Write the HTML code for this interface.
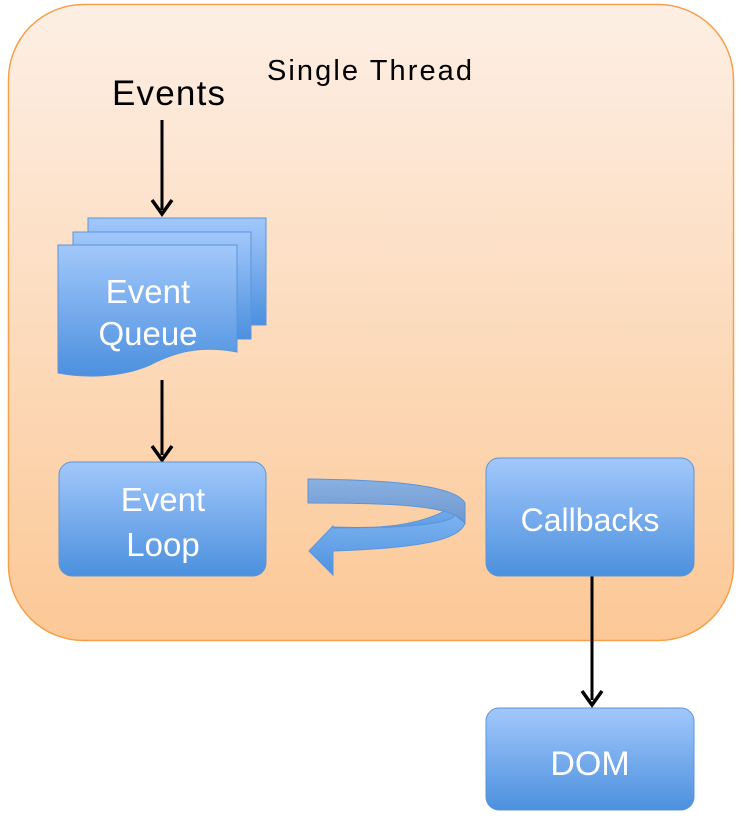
<!DOCTYPE html>
<html><head><meta charset="utf-8"><style>html,body{margin:0;padding:0;background:#fff;}svg{display:block}</style></head>
<body>
<svg width="741" height="822" viewBox="0 0 741 822" xmlns="http://www.w3.org/2000/svg" font-family="Liberation Sans, sans-serif">
<defs>
<linearGradient id="bg" x1="0" y1="0" x2="0" y2="1">
<stop offset="0" stop-color="#fdefe5"/><stop offset="1" stop-color="#fcc896"/></linearGradient>
<linearGradient id="bl" x1="0" y1="0" x2="0" y2="1">
<stop offset="0" stop-color="#a2c8fb"/><stop offset="1" stop-color="#4c90de"/></linearGradient>
<linearGradient id="arr1" x1="0" y1="0" x2="0" y2="1">
<stop offset="0" stop-color="#8ab0e2"/><stop offset="1" stop-color="#6e98cf"/></linearGradient>
<linearGradient id="arr2" x1="0" y1="0" x2="0" y2="1">
<stop offset="0" stop-color="#7db3f0"/><stop offset="1" stop-color="#4f92df"/></linearGradient>
</defs>
<rect x="8.5" y="4.5" width="725" height="636" rx="75" fill="url(#bg)" stroke="#f7a04a" stroke-width="1.5"/>
<text x="267" y="80" font-size="29" textLength="205" fill="#000">Single Thread</text>
<text x="112" y="105" font-size="35" textLength="113" fill="#000">Events</text>
<g stroke="#000" stroke-width="3" fill="none">
<line x1="162" y1="120" x2="162" y2="210"/>
<line x1="162" y1="380" x2="162" y2="455"/>
<line x1="592" y1="576" x2="592" y2="700"/>
</g>
<g fill="none" stroke="#000" stroke-width="3.5">
<polyline points="152,200 162,214 172,200"/>
<polyline points="152,446 162,460 172,446"/>
<polyline points="582,691 592,705 602,691"/>
</g>
<rect x="88" y="218" width="178" height="107" fill="url(#bl)" stroke="#5b95d8" stroke-width="1"/>
<rect x="73" y="232" width="178" height="107" fill="url(#bl)" stroke="#5b95d8" stroke-width="1"/>
<path d="M58,245 H237 V352 C200,345 175,352 150,365 C120,378 85,378 58,373 Z" fill="url(#bl)" stroke="#5b95d8" stroke-width="1"/>
<text x="148" y="303" font-size="33" fill="#fff" text-anchor="middle">Event</text>
<text x="148" y="345" font-size="33" fill="#fff" text-anchor="middle">Queue</text>
<rect x="59" y="462" width="207" height="114" rx="13" fill="url(#bl)" stroke="#5b95d8"/>
<text x="163" y="511" font-size="33" fill="#fff" text-anchor="middle">Event</text>
<text x="163" y="556" font-size="33" fill="#fff" text-anchor="middle">Loop</text>
<rect x="486" y="458" width="208" height="118" rx="13" fill="url(#bl)" stroke="#5b95d8"/>
<text x="590" y="531" font-size="32" fill="#fff" text-anchor="middle">Callbacks</text>
<rect x="486" y="708" width="208" height="102" rx="13" fill="url(#bl)" stroke="#5b95d8"/>
<text x="590" y="775" font-size="34" fill="#fff" text-anchor="middle">DOM</text>
<path d="M333,538 L462,524 C467,515 465,506 460,502 C420,530 370,528 333,527 Z" fill="url(#arr2)" stroke="#5b95d8"/>
<path d="M308,479 C390,480 455,485 465,503 L465,523 C455,505 390,503 308,503 Z" fill="url(#arr1)" stroke="#5b95d8"/>
<path d="M465,523 C460,540 420,548 333,551 L333,575 L309,551 L333,526 L333,528 C400,528 450,525 455,515 Z" fill="url(#arr2)" stroke="#5b95d8"/>
</svg>
</body></html>
